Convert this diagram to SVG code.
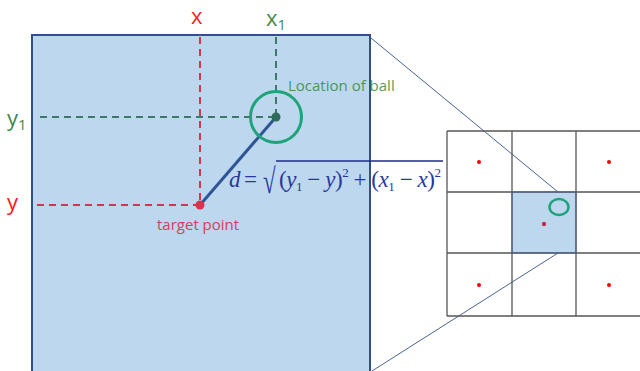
<svg xmlns="http://www.w3.org/2000/svg" width="640" height="371" viewBox="0 0 640 371">
<style>
.lbl{font-family:"Open Sans","Liberation Sans",sans-serif}
.grid{stroke:#555;stroke-width:1.3;fill:none}
.dot{fill:#ff0000}
.zoomln{stroke:#4a6294;stroke-width:1;fill:none}
.math{font-family:"Liberation Serif","Times New Roman",serif;fill:#26389c}
</style>
<rect width="640" height="371" fill="#fff"/>
<g id="field">
<rect x="32" y="35" width="338" height="345" fill="#bdd7ee" stroke="#2f4f8f" stroke-width="2"/>
</g>
<g id="connectors">
<line x1="200" y1="37" x2="200" y2="205" stroke="#d5344d" stroke-width="2" stroke-dasharray="7,5"/>
<line x1="37" y1="205" x2="200" y2="205" stroke="#d5344d" stroke-width="2" stroke-dasharray="7,5"/>
<line x1="276" y1="37" x2="276" y2="117" stroke="#3b7a64" stroke-width="2" stroke-dasharray="7,5"/>
<line x1="40" y1="117" x2="276" y2="117" stroke="#3b7a64" stroke-width="2" stroke-dasharray="7,5"/>
<line x1="200" y1="205" x2="276" y2="117" stroke="#2f5597" stroke-width="3"/>
<line class="zoomln" x1="371" y1="38" x2="558" y2="192"/>
<line class="zoomln" x1="558" y1="253" x2="372" y2="371"/>
</g>
<g id="ball">
<circle cx="276" cy="117" r="25.5" fill="none" stroke="#1fa37a" stroke-width="3"/>
<circle cx="276" cy="117" r="4.5" fill="#2e6b58"/>
<text class="lbl" x="288" y="91" font-size="15" fill="#2a8a3a" fill-opacity="0.85">Location of ball</text>
</g>
<g id="target">
<circle cx="200" cy="205" r="4.5" fill="#d5344d"/>
<text class="lbl" x="157" y="230" font-size="15" fill="#d5405a">target point</text>
</g>
<g id="labels">
<text class="lbl" x="191" y="24" font-size="22" fill="#ff1a1a">x</text>
<text class="lbl" x="266" y="26" font-size="22" fill="#3f8a4a">x<tspan font-size="15" dy="4">1</tspan></text>
<text class="lbl" x="7" y="126" font-size="22" fill="#3f8a4a">y<tspan font-size="15" dy="4">1</tspan></text>
<text class="lbl" x="7" y="210" font-size="22" fill="#ff1a1a">y</text>
</g>
<g id="formula">
<text class="math" x="229" y="187" font-size="23" font-style="italic">d</text>
<text class="math" x="244" y="187" font-size="23">=</text>
<text class="math" x="263" y="192" font-size="23" transform="translate(0,-101) scale(1,1.53)" transform-origin="0 0">√</text>
<line x1="276" y1="161" x2="443" y2="161" stroke="#1d2d8a" stroke-width="1.5"/>
<text class="math" x="279" y="187" font-size="23" textLength="162" lengthAdjust="spacing">(<tspan font-style="italic">y</tspan><tspan font-size="13" dy="4">1</tspan><tspan dy="-4"> − </tspan><tspan font-style="italic">y</tspan>)<tspan font-size="13" dy="-10">2</tspan><tspan dy="10"> + (</tspan><tspan font-style="italic">x</tspan><tspan font-size="13" dy="4">1</tspan><tspan dy="-4"> − </tspan><tspan font-style="italic">x</tspan>)<tspan font-size="13" dy="-10">2</tspan></text>
</g>
<g id="grid">
<rect x="512" y="192" width="64" height="61" fill="#bdd7ee"/>
<line class="grid" x1="447" y1="131" x2="640" y2="131"/>
<line class="grid" x1="447" y1="192" x2="640" y2="192"/>
<line class="grid" x1="447" y1="253" x2="640" y2="253"/>
<line class="grid" x1="447" y1="316" x2="640" y2="316"/>
<line class="grid" x1="447" y1="131" x2="447" y2="316"/>
<line class="grid" x1="512" y1="131" x2="512" y2="316"/>
<line class="grid" x1="576" y1="131" x2="576" y2="316"/>
<rect x="512" y="192" width="64" height="61" fill="none" stroke="#4a6294" stroke-width="1"/>
<circle class="dot" cx="479" cy="162" r="2"/>
<circle class="dot" cx="609" cy="162" r="2"/>
<circle class="dot" cx="479" cy="285" r="2"/>
<circle class="dot" cx="609" cy="285" r="2"/>
<circle cx="544" cy="224" r="2.2" fill="#c0304a"/>
<ellipse cx="559" cy="207" rx="9.5" ry="8" fill="none" stroke="#1fa37a" stroke-width="2.5"/>
</g>
</svg>
